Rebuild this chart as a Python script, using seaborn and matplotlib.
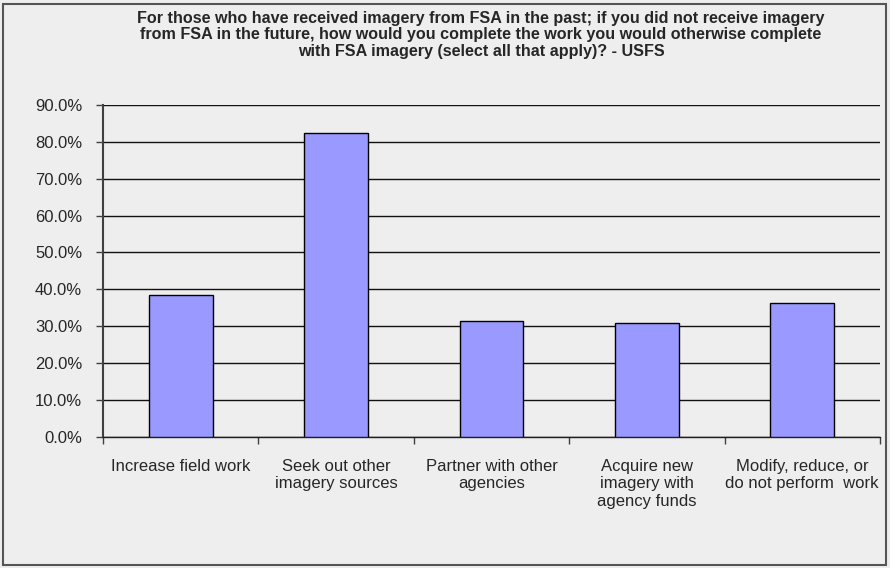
import matplotlib
matplotlib.use("Agg")
import matplotlib.pyplot as plt
import seaborn as sns
import numpy as np
import pandas as pd
from matplotlib.patches import Rectangle
from matplotlib.ticker import PercentFormatter

categories = [
    "Increase field work",
    "Seek out other\nimagery sources",
    "Partner with other\nagencies",
    "Acquire new\nimagery with\nagency funds",
    "Modify, reduce, or\ndo not perform  work",
]
percent = [38.4, 82.3, 31.3, 30.9, 36.2]

title = ("For those who have received imagery from FSA in the past; if you did not receive imagery\n"
         "from FSA in the future, how would you complete the work you would otherwise complete\n"
         "with FSA imagery (select all that apply)? - USFS")

bg = "#eeeeee"
sns.set_style("white")
plt.rcParams['font.family'] = ['Liberation Sans', 'DejaVu Sans']

df = pd.DataFrame({"category": categories, "percent": percent})

fig = plt.figure(figsize=(8.9, 5.68), dpi=100, facecolor=bg)
ax = fig.add_axes([0.1157, 0.2312, 0.8730, 0.5839])
ax.set_facecolor(bg)

# gridlines behind bars
ax.set_axisbelow(True)
sns.barplot(data=df, x="category", y="percent", color="#9999ff", width=0.41,
            edgecolor="black", linewidth=1, saturation=1, ax=ax, zorder=3)

ax.set_ylim(0, 90)
ax.set_xlim(-0.5, len(categories) - 0.5)
ax.set_yticks(np.arange(0, 91, 10))
ax.yaxis.set_major_formatter(PercentFormatter(decimals=1))
ax.yaxis.grid(True, color="#111111", linewidth=1, zorder=0)
ax.xaxis.grid(False)

ax.set_xlabel("")
ax.set_ylabel("")
ax.tick_params(axis="y", length=5, width=1, color="#404040", direction="out",
               pad=10, labelsize=12, left=True)
ax.tick_params(axis="x", which="major", length=0, pad=16, labelsize=12)
ax.set_xticks(np.arange(-0.5, len(categories), 1), minor=True)
ax.tick_params(axis="x", which="minor", length=5, width=1, color="#404040",
               direction="out", bottom=True)

for s in ["top", "right"]:
    ax.spines[s].set_visible(False)
ax.spines["left"].set_color("#404040")
ax.spines["left"].set_linewidth(1.5)
ax.spines["bottom"].set_color("#202020")
ax.spines["bottom"].set_linewidth(1)

fig.text(481 / 890, 1 - 11 / 568, title, ha="center", va="top",
         fontsize=11.6, fontweight="bold", linespacing=1.12,
         family=['Liberation Sans Narrow', 'Liberation Sans', 'DejaVu Sans'])

fig.patches.append(Rectangle((3 / 890, 3 / 568), 1 - 7 / 890, 1 - 7 / 568,
                             transform=fig.transFigure, fill=False,
                             edgecolor="#555555", linewidth=1.5))

fig.savefig("out.png", dpi=100, facecolor=bg)
